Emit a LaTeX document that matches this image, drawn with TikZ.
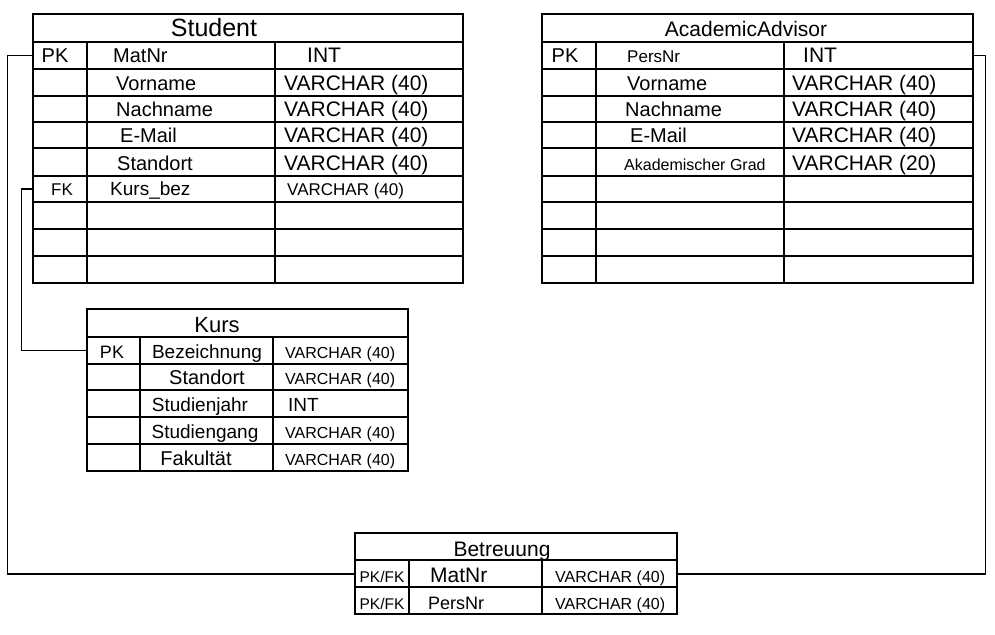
\documentclass[tikz,border=0pt]{standalone}
\usepackage{fontspec}
\setmainfont{Liberation Sans}
\newcommand{\fs}[1]{\fontsize{#1}{#1}\selectfont}
\begin{document}
\begin{tikzpicture}[x=1pt,y=-1pt,
  grid/.style={line width=1.5pt},
  conn/.style={line width=1.2pt},
  rowcell/.style={inner sep=0pt, minimum height=26pt},
  txt/.style={inner sep=0pt, anchor=base west},
  ctxt/.style={inner sep=0pt, anchor=base},
]
\useasboundingbox (0,0) rectangle (995,634);

% ---------------- Student ----------------
\draw[grid] (33,14) rectangle (463,283);
\foreach \y in {42,69,96,122,148,176,202,229,256} \draw[grid] (33,\y) -- (463,\y);
\draw[grid] (87,42) -- (87,283);
\draw[grid] (275,42) -- (275,283);
\node[ctxt, font=\fs{25}] (st) at (214,37) {Student};
\node[rowcell, minimum width=430pt] (s1) at (248,55.5) {};
\node[rowcell, minimum width=430pt] (s6) at (248,189) {};
\node[ctxt, font=\fs{20}] (s1k) at (55,63) {PK};
\node[txt, font=\fs{20}] (s1n) at (113,63) {MatNr};
\node[txt, font=\fs{21}] (s1t) at (307,63) {INT};
\node[txt, font=\fs{20}] (s2n) at (116,90) {Vorname};
\node[txt, font=\fs{21}] (s2t) at (284,90) {VARCHAR (40)};
\node[txt, font=\fs{20}] (s3n) at (116,116) {Nachname};
\node[txt, font=\fs{21}] (s3t) at (284,116) {VARCHAR (40)};
\node[txt, font=\fs{20}] (s4n) at (120,142) {E-Mail};
\node[txt, font=\fs{21}] (s4t) at (284,142) {VARCHAR (40)};
\node[txt, font=\fs{20}] (s5n) at (117,170) {Standort};
\node[txt, font=\fs{21}] (s5t) at (284,170) {VARCHAR (40)};
\node[ctxt, font=\fs{17}] (s6k) at (62,195) {FK};
\node[txt, font=\fs{19}] (s6n) at (110,195) {Kurs\_bez};
\node[txt, font=\fs{17}] (s6t) at (287,195) {VARCHAR (40)};

% ---------------- AcademicAdvisor ----------------
\draw[grid] (542,14) rectangle (973,283);
\foreach \y in {42,69,96,122,148,176,202,229,256} \draw[grid] (542,\y) -- (973,\y);
\draw[grid] (596,42) -- (596,283);
\draw[grid] (784,42) -- (784,283);
\node[ctxt, font=\fs{21}] (at) at (746,37) {AcademicAdvisor};
\node[rowcell, minimum width=431pt] (a1) at (757.5,55.5) {};
\node[ctxt, font=\fs{20}] (a1k) at (565,63) {PK};
\node[txt, font=\fs{17}] (a1n) at (627,63) {PersNr};
\node[txt, font=\fs{21}] (a1t) at (803,63) {INT};
\node[txt, font=\fs{20}] (a2n) at (627,90) {Vorname};
\node[txt, font=\fs{21}] (a2t) at (792,90) {VARCHAR (40)};
\node[txt, font=\fs{20}] (a3n) at (625,116) {Nachname};
\node[txt, font=\fs{21}] (a3t) at (792,116) {VARCHAR (40)};
\node[txt, font=\fs{20}] (a4n) at (630,142) {E-Mail};
\node[txt, font=\fs{21}] (a4t) at (792,142) {VARCHAR (40)};
\node[txt, font=\fs{16}] (a5n) at (624,170) {Akademischer Grad};
\node[txt, font=\fs{21}] (a5t) at (792,170) {VARCHAR (20)};

% ---------------- Kurs ----------------
\draw[grid] (87,309) rectangle (408,471);
\foreach \y in {337,364,390,417,444} \draw[grid] (87,\y) -- (408,\y);
\draw[grid] (140,337) -- (140,471);
\draw[grid] (273,337) -- (273,471);
\node[ctxt, font=\fs{22}] (kt) at (217,332) {Kurs};
\node[rowcell, minimum width=321pt] (k1) at (247.5,350.5) {};
\node[ctxt, font=\fs{18}] (k1k) at (112,358) {PK};
\node[ctxt, font=\fs{19}] (k1n) at (207,358) {Bezeichnung};
\node[txt, font=\fs{16}] (k1t) at (285,358) {VARCHAR (40)};
\node[ctxt, font=\fs{20}] (k2n) at (207,384) {Standort};
\node[txt, font=\fs{16}] (k2t) at (285,384) {VARCHAR (40)};
\node[ctxt, font=\fs{19}] (k3n) at (200,411) {Studienjahr};
\node[txt, font=\fs{19}] (k3t) at (288,411) {INT};
\node[ctxt, font=\fs{19}] (k4n) at (205,438) {Studiengang};
\node[txt, font=\fs{16}] (k4t) at (285,438) {VARCHAR (40)};
\node[ctxt, font=\fs{20}] (k5n) at (196,465) {Fakultät};
\node[txt, font=\fs{16}] (k5t) at (285,465) {VARCHAR (40)};

% ---------------- Betreuung ----------------
\draw[grid] (355,533) rectangle (677,614);
\foreach \y in {560,587} \draw[grid] (355,\y) -- (677,\y);
\draw[grid] (409,560) -- (409,614);
\draw[grid] (542,560) -- (542,614);
\node[ctxt, font=\fs{21}] (bt) at (502,556) {Betreuung};
\node[rowcell, minimum width=322pt] (b1) at (516,574) {};
\node[ctxt, font=\fs{15.5}] (b1k) at (382,582) {PK/FK};
\node[txt, font=\fs{21}] (b1n) at (430,582) {MatNr};
\node[txt, font=\fs{16}] (b1t) at (555,582) {VARCHAR (40)};
\node[ctxt, font=\fs{15.5}] (b2k) at (382,609) {PK/FK};
\node[txt, font=\fs{18}] (b2n) at (428,609) {PersNr};
\node[txt, font=\fs{16}] (b2t) at (555,609) {VARCHAR (40)};

% ---------------- Connectors ----------------
\draw[conn] (s1.west) -- ++(-25,0) |- (b1.west);
\draw[conn] (s6.west) -- ++(-11,0) |- (k1.west);
\draw[conn] (a1.east) -- ++(12,0) |- (b1.east);
\end{tikzpicture}
\end{document}
